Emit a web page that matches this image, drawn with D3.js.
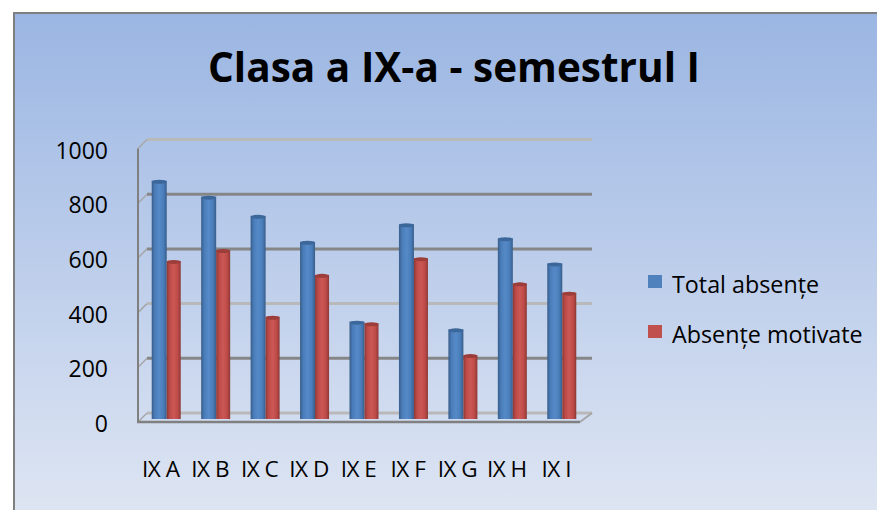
<!DOCTYPE html>
<html>
<head>
<meta charset="utf-8">
<script src="https://cdn.jsdelivr.net/npm/d3@7"></script>
<style>
  body { margin: 0; background: #fff; }
  svg { display: block; }
  text { font-family: "Open Sans", "Liberation Sans", sans-serif; fill: #000; }
</style>
</head>
<body>
<div class="canvas"></div>
<script>
// data
const categories = ['IX A', 'IX B', 'IX C', 'IX D', 'IX E', 'IX F', 'IX G', 'IX H', 'IX I'];
const totalAbsente = [871, 813, 743, 648, 356, 712, 328, 661, 569];
const absenteMotivate = [578, 618, 374, 527, 350, 588, 234, 496, 462];
const seriesNames = ['Total absențe', 'Absențe motivate'];
const yTicks = [0, 200, 400, 600, 800, 1000];

const width = 877, height = 510;

const svg = d3.select('.canvas')
    .append('svg')
    .attr('width', width)
    .attr('height', height);

const defs = svg.append('defs');

// chart background gradient
const bg = defs.append('linearGradient')
    .attr('id', 'bg').attr('x1', 0).attr('y1', 0).attr('x2', 0).attr('y2', 1);
bg.append('stop').attr('offset', '0%').attr('stop-color', '#9bb6e3');
bg.append('stop').attr('offset', '100%').attr('stop-color', '#dfe6f3');

// cylinder shading for the bars
const shade = (id, edge, mid, light) => {
    const g = defs.append('linearGradient')
        .attr('id', id).attr('x1', 0).attr('y1', 0).attr('x2', 1).attr('y2', 0);
    g.append('stop').attr('offset', '0%').attr('stop-color', edge);
    g.append('stop').attr('offset', '22%').attr('stop-color', mid);
    g.append('stop').attr('offset', '50%').attr('stop-color', light);
    g.append('stop').attr('offset', '78%').attr('stop-color', mid);
    g.append('stop').attr('offset', '100%').attr('stop-color', edge);
};
shade('blueBar', '#385d8a', '#4a7ebb', '#5689c7');
shade('redBar', '#8c3836', '#bf4b48', '#cc5855');
const colors = ['#4f81bd', '#c0504d'];
const fills = ['url(#blueBar)', 'url(#redBar)'];
const caps = ['#3c679b', '#9c3d3a'];

// chart area with border
svg.append('rect')
    .attr('x', 14).attr('y', 13)
    .attr('width', width).attr('height', height)
    .attr('fill', 'url(#bg)')
    .attr('stroke', '#7f7f7f')
    .attr('stroke-width', 2);

// title
svg.append('text')
    .attr('x', 454).attr('y', 82)
    .attr('text-anchor', 'middle')
    .attr('font-size', 42)
    .attr('font-weight', 'bold')
    .attr('textLength', 492)
    .attr('lengthAdjust', 'spacingAndGlyphs')
    .text('Clasa a IX-a - semestrul I');

// 3d box geometry
const depth = { dx: 10, dy: -9 };
const front = { left: 137, right: 582 };

// y scale on the back wall, bars sit half way in depth
const yBack = d3.scaleLinear().domain([0, 1000]).range([413, 139.5]);
const yMid = d3.scaleLinear().domain([0, 1000]).range([419, 145.5]);

// x scales: front plane for labels, mid plane for bars
const xFront = d3.scaleBand().domain(categories).range([front.left, front.right]);
const xMid = d3.scaleBand().domain(categories).range([front.left + 5, front.right + 5]);

const graph = svg.append('g');

// gridlines on back wall + side wall diagonals
const gridColor = v => (v === 1000 || v === 400 || v === 0) ? '#b9b9b9' : '#868686';
graph.selectAll('.grid')
    .data(yTicks)
    .enter().append('line')
    .attr('x1', front.left + depth.dx)
    .attr('x2', front.right + depth.dx)
    .attr('y1', d => yBack(d))
    .attr('y2', d => yBack(d))
    .attr('stroke', gridColor)
    .attr('stroke-width', 3);

graph.selectAll('.side')
    .data(yTicks)
    .enter().append('line')
    .attr('x1', front.left + 1)
    .attr('x2', front.left + depth.dx)
    .attr('y1', d => yBack(d) - depth.dy)
    .attr('y2', d => yBack(d))
    .attr('stroke', '#a6a6a6')
    .attr('stroke-width', 1.5);

// floor right edge diagonal
graph.append('line')
    .attr('x1', front.right - 2).attr('y1', yBack(0) - depth.dy)
    .attr('x2', front.right + depth.dx).attr('y2', yBack(0))
    .attr('stroke', '#a6a6a6').attr('stroke-width', 2);

// bars
const barW = [15, 14];
const series = [totalAbsente, absenteMotivate];
series.forEach((vals, s) => {
    const g = graph.append('g');
    const xOf = (d, i) => {
        const c = xMid(categories[i]) + xMid.bandwidth() / 2;
        return s === 0 ? c - barW[0] : c;
    };
    g.selectAll('rect')
        .data(vals)
        .enter().append('rect')
        .attr('x', xOf)
        .attr('y', d => yMid(d))
        .attr('width', barW[s])
        .attr('height', d => yMid(0) - yMid(d))
        .attr('fill', fills[s]);
    g.selectAll('ellipse')
        .data(vals)
        .enter().append('ellipse')
        .attr('cx', (d, i) => xOf(d, i) + barW[s] / 2)
        .attr('cy', d => yMid(d) + 1)
        .attr('rx', barW[s] / 2)
        .attr('ry', 2)
        .attr('fill', caps[s]);
});

// front axis lines
graph.append('line')
    .attr('x1', front.left + 1).attr('x2', front.left + 1)
    .attr('y1', yBack(1000) - depth.dy).attr('y2', yBack(0) - depth.dy + 1)
    .attr('stroke', '#808080').attr('stroke-width', 2);
graph.append('line')
    .attr('x1', front.left).attr('x2', front.right - 2)
    .attr('y1', yBack(0) - depth.dy).attr('y2', yBack(0) - depth.dy)
    .attr('stroke', '#808080').attr('stroke-width', 2.5);

// y labels
graph.selectAll('.ylab')
    .data(yTicks)
    .enter().append('text')
    .attr('x', 108)
    .attr('y', d => yBack(d) + 19)
    .attr('text-anchor', 'end')
    .attr('font-size', 23)
    .text(d => d);

// x labels
graph.selectAll('.xlab')
    .data(categories)
    .enter().append('text')
    .attr('x', d => xFront(d) + xFront.bandwidth() / 2 - 1)
    .attr('y', 477)
    .attr('text-anchor', 'middle')
    .attr('font-size', 22.5)
    .attr('letter-spacing', -0.5)
    .text(d => d);

// legend
const legend = svg.append('g').attr('transform', 'translate(648, 275)');
seriesNames.forEach((name, i) => {
    legend.append('rect')
        .attr('x', 0).attr('y', i * 50)
        .attr('width', 14).attr('height', 13)
        .attr('fill', colors[i]);
    legend.append('text')
        .attr('x', 24).attr('y', i * 50 + 18)
        .attr('font-size', 23.3)
        .text(name);
});
</script>
</body>
</html>
